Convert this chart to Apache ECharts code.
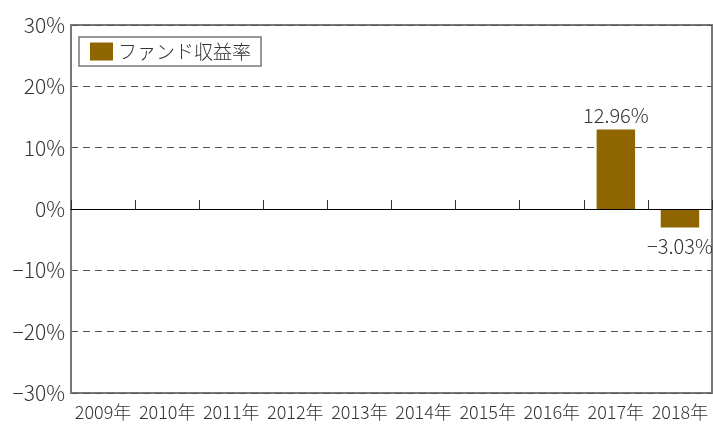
<!DOCTYPE html>
<html>
<head>
<meta charset="utf-8">
<script src="https://cdn.jsdelivr.net/npm/echarts@6/dist/echarts.min.js"></script>
<style>
  html, body { margin: 0; padding: 0; background: #fff; }
  #chart { width: 713px; height: 426px; }
</style>
</head>
<body>
<div id="chart"></div>
<script>
const years = ['2009年', '2010年', '2011年', '2012年', '2013年', '2014年', '2015年', '2016年', '2017年', '2018年'];
const fundReturn = [null, null, null, null, null, null, null, null, 12.96, -3.03];
const seriesName = 'ファンド収益率';

const barColor = '#8f6500';
const font = '"Noto Sans CJK JP", "Noto Sans", sans-serif';

function pct(v) {
    return (v < 0 ? '\u2212' + Math.abs(v) : v) + '%';
}

const chart = echarts.init(document.getElementById('chart'));
chart.setOption({
    animation: false,
    textStyle: { fontFamily: font, color: '#333' },
    grid: {
        left: 71,
        right: 1,
        top: 25,
        bottom: 33,
        show: true,
        borderColor: '#777',
        borderWidth: 2
    },
    legend: {
        left: 79,
        top: 37,
        padding: [5, 10, 5, 11],
        borderColor: '#777',
        borderWidth: 1.5,
        itemWidth: 23,
        itemHeight: 18,
        itemGap: 8,
        textStyle: { fontSize: 19, color: '#333', fontFamily: font, fontWeight: 300 },
        data: [{ name: seriesName, icon: 'rect' }]
    },
    xAxis: [
        {
            type: 'category',
            data: years,
            axisLine: { onZero: true, lineStyle: { color: '#000', width: 1.2 } },
            axisTick: { show: true, inside: true, length: 9, lineStyle: { color: '#333' } },
            axisLabel: { show: false },
            splitLine: { show: false },
            z: 5
        },
        {
            type: 'category',
            data: years,
            position: 'bottom',
            axisLine: { show: false, onZero: false },
            axisTick: { show: false },
            axisLabel: { fontSize: 18, color: '#333', margin: 10, interval: 0, fontFamily: font, fontWeight: 300 },
            splitLine: { show: false }
        }
    ],
    yAxis: {
        type: 'value',
        min: -30,
        max: 30,
        interval: 10,
        axisLine: { show: true, lineStyle: { color: '#777', width: 2 } },
        axisTick: { show: false },
        axisLabel: { fontSize: 21, color: '#333', margin: 6, formatter: pct, fontFamily: font, fontWeight: 300 },
        splitLine: { show: true, lineStyle: { color: '#555', type: [7, 5], width: 1 } }
    },
    series: [
        {
            name: seriesName,
            type: 'bar',
            barWidth: '60%',
            itemStyle: { color: barColor },
            data: fundReturn.map(v => v === null ? null : {
                value: v,
                label: {
                    show: true,
                    position: v < 0 ? 'bottom' : 'top',
                    distance: v < 0 ? 9 : 4,
                    fontSize: 20,
                    color: '#333',
                    fontFamily: font,
                    fontWeight: 300,
                    formatter: p => pct(p.value.toFixed(2))
                }
            })
        }
    ]
});
</script>
</body>
</html>
